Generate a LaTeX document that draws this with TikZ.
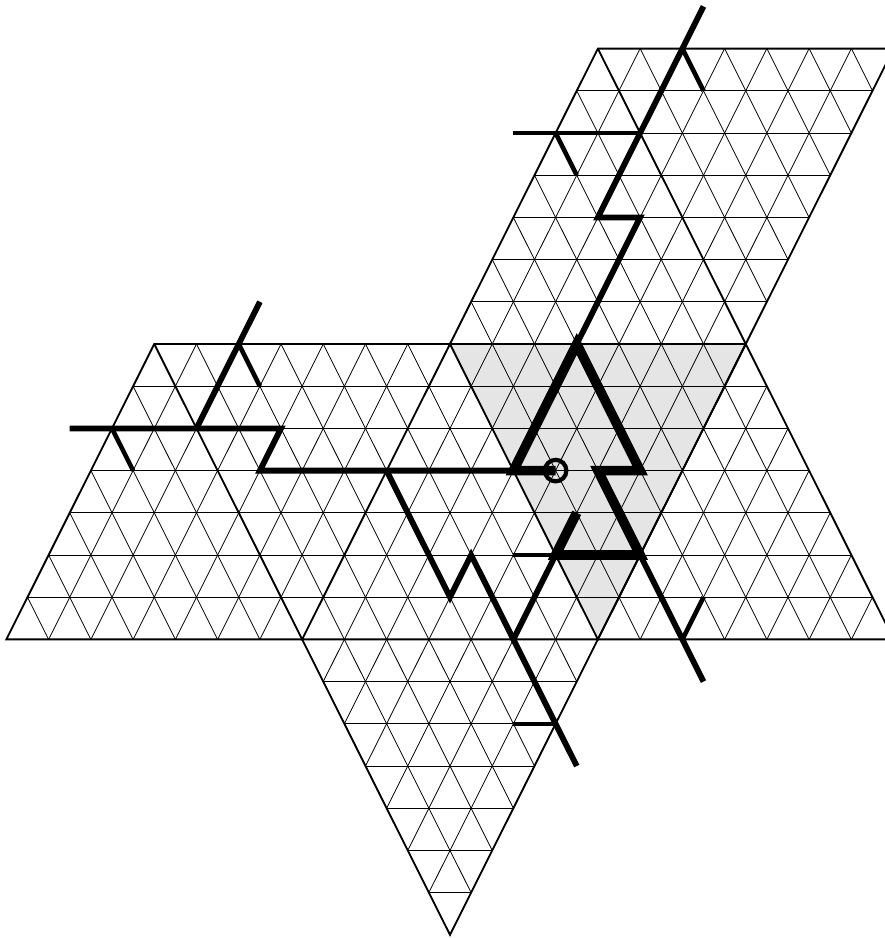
\documentclass[tikz,border=0pt]{standalone}
\tikzset{
    gridline/.style={line width=0.45pt},
    foldline/.style={line width=1.05pt, line join=miter},
    treeA/.style={line width=5.5pt, miter limit=10},
    treeB/.style={line width=3.3pt, miter limit=10},
    treeC/.style={line width=2.6pt, miter limit=10}
}
\begin{document}
\begin{tikzpicture}[x=0.4225cm, y=0.844cm]
    \path[use as bounding box, clip] (-9cm,6.88cm) rectangle (8.7cm,-11.88cm);

    % shaded face
    \fill[black!10] (0,0) -- (14,0) -- (7,-7) -- cycle;

    % lattice, cut to the net
    \begin{scope}
        \clip (-14,0) -- (0,0) -- (7,7) -- (21,7) -- (14,0) -- (21,-7) -- (7,-7)
            -- (0,-14) -- (-7,-7) -- (-21,-7) -- cycle;
        \foreach \row in {-13,...,6} {
            \draw[gridline] (-22,\row) -- (22,\row);
        }
        \foreach \c in {-50,-48,...,50} {
            \draw[gridline] (\c-25,25) -- (\c+25,-25);
            \draw[gridline] (\c-25,-25) -- (\c+25,25);
        }
    \end{scope}

    % outline and folds of the net
    \draw[foldline] (-14,0) -- (0,0) -- (7,7) -- (21,7) -- (14,0) -- (21,-7) -- (7,-7)
        -- (0,-14) -- (-7,-7) -- (-21,-7) -- cycle;
    \draw[foldline] (0,0) -- (14,0) -- (7,-7) -- (0,0) -- (-7,-7) -- (7,-7);
    \draw[foldline] (7,7) -- (14,0) (14,0) -- (7,-7) (-7,-7) -- (-14,0);

    % tree, heaviest part in the shaded face
    \draw[treeA] (5,-3) -- (3,-3) -- (6,0) -- (9,-3) -- (7,-3) -- (9,-5) -- (5,-5) -- (6,-4);

    % tree, middle branches
    \draw[treeB] (6,0) -- (9,3) -- (7,3) -- (9,5) -- (11,7) -- (12,8);
    \draw[treeB] (3,-3) -- (-9,-3) -- (-8,-2) -- (-18,-2);
    \draw[treeB] (-12,-2) -- (-10,0) -- (-9,1);
    \draw[treeB] (-3,-3) -- (0,-6) -- (1,-5) -- (3,-7) -- (5,-9) -- (6,-10);
    \draw[treeB] (5,-5) -- (3,-7);
    \draw[treeB] (9,-5) -- (11,-7) -- (12,-8);

    % tree, short branches
    \draw[treeC] (11,7) -- (12,6);
    \draw[treeC] (9,5) -- (3,5);
    \draw[treeC] (5,5) -- (6,4);
    \draw[treeC] (-10,0) -- (-9,-1);
    \draw[treeC] (-16,-2) -- (-15,-3);
    \draw[treeC] (5,-5) -- (3,-5);
    \draw[treeC] (5,-9) -- (3,-9);
    \draw[treeC] (11,-7) -- (12,-6);

    % marked point
    \draw[line width=2.4pt] (5,-3) circle (0.215cm);
\end{tikzpicture}
\end{document}
